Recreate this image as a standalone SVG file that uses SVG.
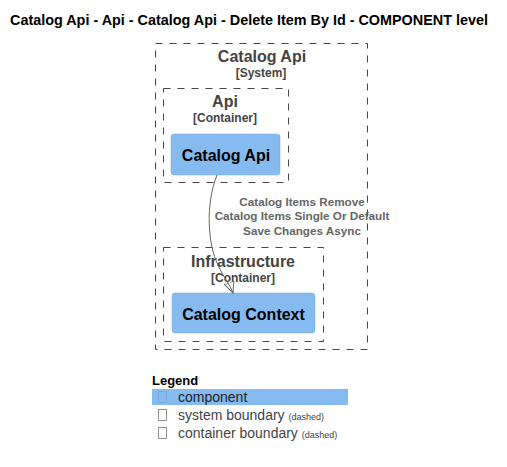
<svg xmlns="http://www.w3.org/2000/svg" width="507" height="467" viewBox="0 0 507 467">
<style>
text{font-family:"Liberation Sans",Arial,sans-serif}
.title{font-size:14.4px;font-weight:bold;fill:#000}
.bnd{fill:none;stroke:#444;stroke-width:1;stroke-dasharray:7 7}
.bname{font-size:16px;font-weight:bold;fill:#444;text-anchor:middle}
.btype{font-size:12px;font-weight:bold;fill:#444;text-anchor:middle}
.comp{fill:#85bbf0;stroke:#78a8d8;stroke-width:0.5}
.cname{font-size:16px;font-weight:bold;fill:#000;text-anchor:middle}
.elbl{font-size:11.7px;font-weight:bold;fill:#666;text-anchor:middle}
.lg{font-size:14px;fill:#444}
.lgs{font-size:9px;fill:#444}
.tofu{fill:none;stroke:#777;stroke-width:0.8}
</style>
<defs>
<marker id="arr" viewBox="0 0 12 12" refX="11" refY="6" markerWidth="12" markerHeight="12" orient="auto" markerUnits="userSpaceOnUse">
<path d="M0,1 L11,6 L0,11 Z" fill="#fff" fill-opacity="0" stroke="#666" stroke-width="1"/>
</marker>
</defs>
<rect width="507" height="467" fill="#fff"/>
<text class="title" x="10" y="25" textLength="478" lengthAdjust="spacing">Catalog Api - Api - Catalog Api - Delete Item By Id - COMPONENT level</text>
<g id="system-catalog-api">
<rect class="bnd" x="155.5" y="43.5" width="212" height="306"/>
<text class="bname" x="262" y="62">Catalog Api</text>
<text class="btype" x="261" y="77">[System]</text>
</g>
<g id="container-api">
<rect class="bnd" x="163.5" y="88.5" width="125" height="94"/>
<text class="bname" x="225" y="107">Api</text>
<text class="btype" x="225" y="122">[Container]</text>
</g>
<g id="container-infrastructure">
<rect class="bnd" x="163.5" y="247.5" width="160" height="94"/>
<text class="bname" x="243" y="267">Infrastructure</text>
<text class="btype" x="243" y="282">[Container]</text>
</g>
<g id="component-catalog-api">
<rect class="comp" x="171" y="134" width="109" height="41" rx="3"/>
<text class="cname" x="226" y="161">Catalog Api</text>
</g>
<g id="component-catalog-context">
<rect class="comp" x="172" y="293" width="143" height="40" rx="3"/>
<text class="cname" x="243.5" y="320">Catalog Context</text>
</g>
<g id="connectors">
<path d="M217,175 C205,205 208,245 218,265 C224,278 230,285 233,293" fill="none" stroke="#666" stroke-width="1" marker-end="url(#arr)"/>
<text class="elbl" x="302" y="206">Catalog Items Remove</text>
<text class="elbl" x="302" y="220">Catalog Items Single Or Default</text>
<text class="elbl" x="302" y="235">Save Changes Async</text>
</g>
<g id="legend">
<text x="152" y="385" style="font-size:13px;font-weight:bold;fill:#000">Legend</text>
<rect x="152" y="389" width="196" height="16" fill="#85bbf0"/>
<rect class="tofu" x="158.5" y="391.5" width="8" height="11" style="stroke:#7aa6d6"/>
<text class="lg" x="178" y="402" style="fill:#222">component</text>
<rect class="tofu" x="158.5" y="409.5" width="8" height="11"/>
<text class="lg" x="178" y="420">system boundary <tspan class="lgs">(dashed)</tspan></text>
<rect class="tofu" x="158.5" y="427.5" width="8" height="11"/>
<text class="lg" x="178" y="438">container boundary <tspan class="lgs">(dashed)</tspan></text>
</g>
</svg>
